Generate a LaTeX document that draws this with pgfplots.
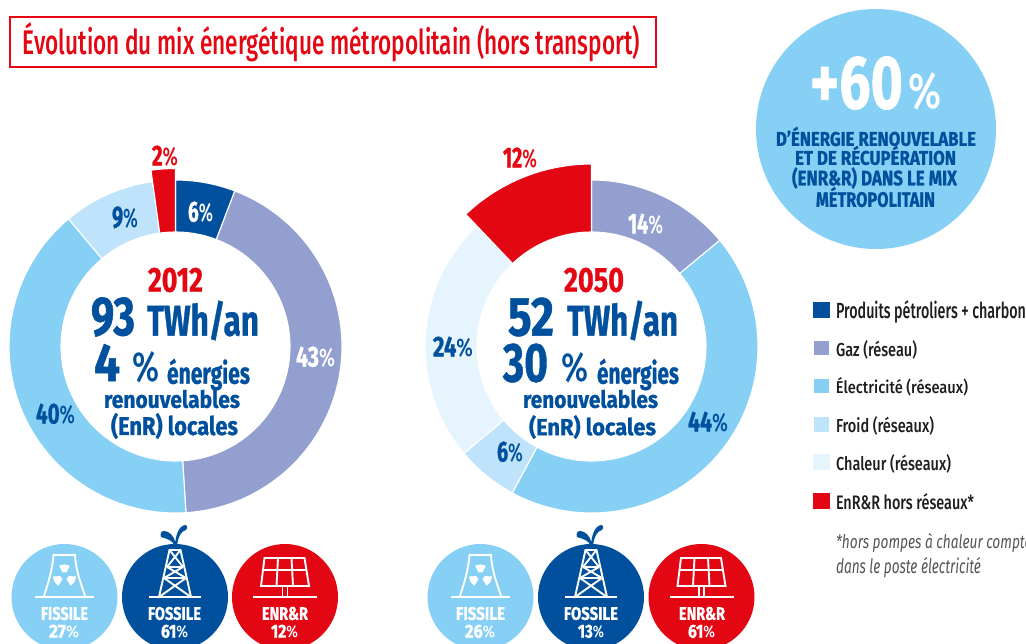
\documentclass[border=0pt]{standalone}
\usepackage{graphicx}
\usepackage{pgfplots}
\pgfplotsset{compat=1.18}
\usepackage{fontspec}
\setmainfont{Fira Sans}[UprightFont=* Medium,BoldFont=* Bold,BoldFeatures={FakeBold=1},ItalicFont=* Italic]
\definecolor{cA}{HTML}{00509D}
\definecolor{cB}{HTML}{929FCF}
\definecolor{cC}{HTML}{86CFF5}
\definecolor{cD}{HTML}{BFE3FA}
\definecolor{cE}{HTML}{E6F4FD}
\definecolor{cR}{HTML}{E30613}
\definecolor{cT}{HTML}{1D1D1B}
\definecolor{cF}{HTML}{555555}
% text fitted to a box x0 x1 y0 y1 (pixels)
\newcommand\fit[6][cA]{\node[inner sep=0pt,outer sep=0pt,anchor=center,text=#1] at (axis cs:{(#2+#3)/2},{(#4+#5)/2}) {\resizebox{\dimexpr#3pt-#2pt\relax}{\dimexpr#5pt-#4pt\relax}{#6}};}
\newcommand\pc[1]{{\bfseries #1}{\scalebox{0.88}{\%}}}
% one ring segment: cx cy inner outer share colour
\gdef\cum{0}
\newcommand\seg[6]{%
  \pgfmathsetmacro\aS{\cum*3.6}%
  \pgfmathsetmacro\aE{(\cum+#5)*3.6}%
  \pgfmathtruncatemacro\nn{ceil((\aE-\aS)/2)}%
  \gdef\pts{}%
  \foreach \i in {0,...,\nn}{%
    \pgfmathsetmacro\aa{\aS+(\aE-\aS)*\i/\nn}%
    \pgfmathsetmacro\px{#1+#4*sin(\aa)}%
    \pgfmathsetmacro\py{#2-#4*cos(\aa)}%
    \xdef\pts{\pts (\px,\py)}%
  }%
  \foreach \i in {\nn,...,0}{%
    \pgfmathsetmacro\aa{\aS+(\aE-\aS)*\i/\nn}%
    \pgfmathsetmacro\px{#1+#3*sin(\aa)}%
    \pgfmathsetmacro\py{#2-#3*cos(\aa)}%
    \xdef\pts{\pts (\px,\py)}%
  }%
  \edef\tmp{\noexpand\addplot[fill=#6,draw=white,line width=1.1pt,line join=miter] coordinates {\pts} -- cycle;}\tmp
  \pgfmathsetmacro\nc{\cum+#5}\xdef\cum{\nc}%
}
\newcommand\tower[2]{\begin{scope}[shift={(#1pt,643pt-#2pt)},yscale=-1,x=1pt,y=1pt,white,line width=1.9pt]
  \draw (-29.5,0) -- (29.5,0);
  \draw (-21,0) .. controls (-16,-14) and (-12,-28) .. (-11,-42) -- (10.5,-42) .. controls (11,-28) and (16,-14) .. (21,0);
  \foreach \a in {-90,30,150}{
    \fill[shift={(0,-21)}] (\a-28:4) -- (\a-28:11.5) arc[start angle=\a-28,end angle=\a+28,radius=11.5] -- (\a+28:4) arc[start angle=\a+28,end angle=\a-28,radius=4] -- cycle;}
\end{scope}}
\newcommand\derrick[2]{\begin{scope}[shift={(#1pt,643pt-#2pt)},yscale=-1,x=1pt,y=1pt,white,line width=1.9pt]
  \draw (-26,0) -- (26,0);
  \draw (-16,0) -- (-5.5,-47) -- (5.5,-47) -- (16,0);
  \draw (-5.5,-47) -- (8,-30) (5.5,-47) -- (-8,-30);
  \draw (-8,-30) -- (8,-30);
  \draw (-8,-30) -- (11,-19) (8,-30) -- (-11,-19);
  \draw (-11,-19) -- (11,-19);
  \draw (-11,-19) -- (16,0) (11,-19) -- (-16,0);
  \fill[cA] (-1,-52) .. controls (-2,-56) and (-7,-58) .. (-14,-60) .. controls (-15,-63) and (-14,-66) .. (-11,-66) .. controls (-6,-66) and (-1,-61) .. (0.3,-55) .. controls (1,-62) and (4,-72) .. (11,-72) .. controls (13,-71) and (12.5,-68) .. (11,-67) .. controls (6,-66) and (3,-60) .. (2.2,-52) -- cycle;
\end{scope}}
\newcommand\solar[2]{\begin{scope}[shift={(#1pt,643pt-#2pt)},yscale=-1,x=1pt,y=1pt,white,line width=1.9pt]
  \draw (-32,0) -- (32,0);
  \draw (-20.5,-39) -- (19.5,-39) -- (24,-11) -- (-24,-11) -- cycle;
  \draw (-22,-27) -- (21.5,-27);
  \draw (-7,-39) -- (-8.5,-11) (6.5,-39) -- (8,-11);
  \draw (-2.5,-11) -- (-2.5,0) (2.5,-11) -- (2.5,0);
\end{scope}}
\begin{document}
\begin{tikzpicture}
\path[clip,use as bounding box] (0,0) rectangle (1026pt,643pt);
\begin{axis}[at={(0,0)},anchor=south west,scale only axis,width=1026pt,height=643pt,
  xmin=0,xmax=1026,ymin=0,ymax=643,y dir=reverse,hide axis,clip=false]
% 2012
\gdef\cum{0}
\seg{175.5}{346.5}{114.5}{166.5}{5.8}{cA}
\seg{175.5}{346.5}{114.5}{166.5}{43.2}{cB}
\seg{175.5}{346.5}{114.5}{166.5}{39.9}{cC}
\seg{175.5}{346.5}{114.5}{166.5}{8.9}{cD}
\seg{175.5}{346.5}{114.5}{178}{2.2}{cR}
% 2050
\gdef\cum{0}
\seg{591.5}{346.5}{114.5}{166.5}{14}{cB}
\seg{591.5}{346.5}{114.5}{166.5}{43.9}{cC}
\seg{591.5}{346.5}{114.5}{166.5}{6}{cD}
\seg{591.5}{346.5}{114.5}{166.5}{24}{cE}
\seg{591.5}{346.5}{114.5}{182.5}{12.1}{cR}
% circles
\fill[cC] (axis cs:876,129) circle[radius=120pt];
\fill[cC] (axis cs:64.5,597) circle[radius=53pt];
\fill[cA] (axis cs:175,597) circle[radius=53pt];
\fill[cR] (axis cs:285,597) circle[radius=53pt];
\fill[cC] (axis cs:480.5,597) circle[radius=53pt];
\fill[cA] (axis cs:591,597) circle[radius=53pt];
\fill[cR] (axis cs:701.5,597) circle[radius=53pt];
% title
\draw[cR,line width=1.5pt] (axis cs:10,17) rectangle (axis cs:656,67);
\fit[cR]{23}{640}{26}{58}{Évolution du mix énergétique métropolitain (hors transport)}
% percent labels 2012
\fit[cR]{152}{178}{146}{166}{\pc{2}}
\fit[white]{188}{213}{202}{222}{\pc{6}}
\fit{112}{138}{207}{228}{\pc{9}}
\fit[white]{296}{335}{347}{367}{\pc{43}}
\fit{36}{75}{404}{424}{\pc{40}}
% percent labels 2050
\fit[cR]{503}{537}{148}{168}{\pc{12}}
\fit[white]{628}{663}{214}{234}{\pc{14}}
\fit{688}{728}{412}{432}{\pc{44}}
\fit{497}{523}{442}{462}{\pc{6}}
\fit{433}{473}{337}{357}{\pc{24}}
% centre 2012
\fit[cR]{148}{203}{268}{292}{\bfseries 2012}
\fit{91}{135}{298}{336}{\bfseries 93}
\fit{147}{259}{303}{338}{\bfseries TWh/an}
\fit{94}{120}{344}{381}{\bfseries 4}
\fit{132}{159}{352}{382}{\%}
\fit{167}{250}{362}{387}{\bfseries énergies}
\fit{104}{240}{390}{408}{\bfseries renouvelables}
\fit{111}{238}{415}{437}{\bfseries (EnR) locales}
% centre 2050
\fit[cR]{564}{624}{268}{292}{\bfseries 2050}
\fit{508}{554}{298}{336}{\bfseries 52}
\fit{567}{678}{303}{338}{\bfseries TWh/an}
\fit{503}{548}{344}{382}{\bfseries 30}
\fit{562}{589}{353}{382}{\%}
\fit{597}{679}{362}{387}{\bfseries énergies}
\fit{523}{658}{390}{408}{\bfseries renouvelables}
\fit{529}{656}{417}{437}{\bfseries (EnR) locales}
% big circle
\fit[white]{810}{903}{57}{109}{\bfseries +60}
\fit[white]{908}{941}{73}{109}{\%}
\fit{776}{976}{127}{146}{\bfseries D'ÉNERGIE RENOUVELABLE}
\fit{795}{956}{146}{165}{\bfseries ET DE RÉCUPÉRATION}
\fit{792}{957}{169}{187}{\bfseries (ENR\&R) DANS LE MIX}
\fit{816}{935}{187}{207}{\bfseries MÉTROPOLITAIN}
% legend
\fill[cA] (axis cs:813,302) rectangle (axis cs:830,318);
\fill[cB] (axis cs:814,341) rectangle (axis cs:829,355);
\fill[cC] (axis cs:814,379) rectangle (axis cs:829,393);
\fill[cD] (axis cs:814,417) rectangle (axis cs:829,432);
\fill[cE] (axis cs:813,454) rectangle (axis cs:830,470);
\fill[cR] (axis cs:813,493) rectangle (axis cs:830,509);
\fit[cT]{836}{1026}{303}{321}{Produits pétroliers + charbon}
\fit[cT]{836}{917}{342}{358}{Gaz (réseau)}
\fit[cT]{836}{968}{379}{395}{Électricité (réseaux)}
\fit[cT]{836}{934}{418}{434}{Froid (réseaux)}
\fit[cT]{836}{951}{456}{472}{Chaleur (réseaux)}
\fit[cT]{836}{974}{494}{510}{EnR\&R hors réseaux*}
\fit[cF]{836}{1045}{536}{551}{\itshape *hors pompes à chaleur comptées}
\fit[cF]{836}{981}{560}{576}{\itshape dans le poste électricité}
% small circles text
\fit[white]{41}{88}{607}{620}{\bfseries FISSILE}
\fit[white]{49}{79}{625}{638}{\pc{27}}
\fit[white]{148}{201}{607}{620}{\bfseries FOSSILE}
\fit[white]{161}{188}{625}{638}{\pc{61}}
\fit[white]{262}{308}{607}{620}{\bfseries ENR\&R}
\fit[white]{271}{298}{625}{638}{\pc{12}}
\fit[white]{456}{505}{607}{620}{\bfseries FISSILE}
\fit[white]{465}{495}{625}{638}{\pc{26}}
\fit[white]{564}{618}{607}{620}{\bfseries FOSSILE}
\fit[white]{578}{604}{625}{638}{\pc{13}}
\fit[white]{679}{725}{607}{620}{\bfseries ENR\&R}
\fit[white]{688}{715}{625}{638}{\pc{61}}
\end{axis}
\tower{64.5}{597}
\derrick{175}{597}
\solar{285}{597}
\tower{480.5}{597}
\derrick{591}{597}
\solar{701.5}{597}
\end{tikzpicture}
\end{document}
